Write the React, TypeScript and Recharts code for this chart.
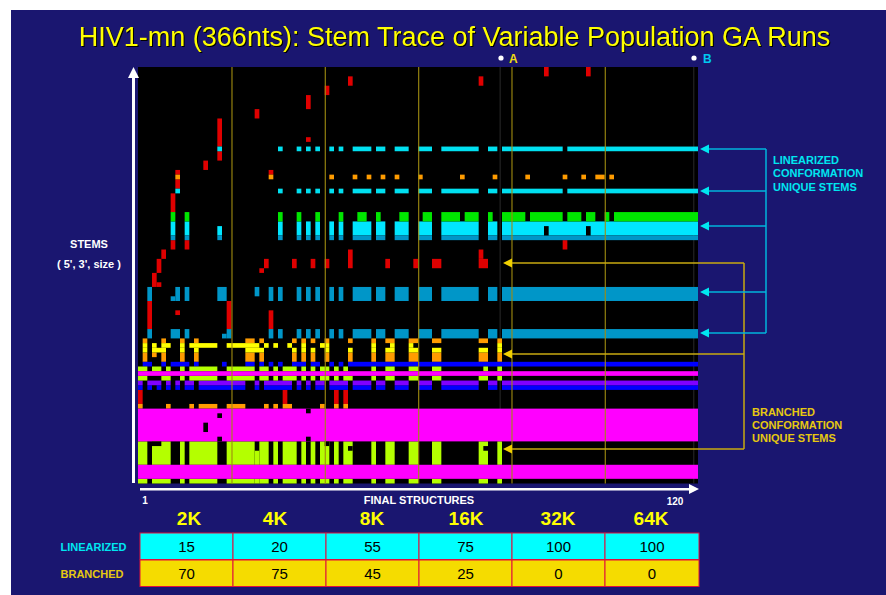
import React from "react";
import { ScatterChart, Scatter, XAxis, YAxis, ReferenceLine, ReferenceArea } from "recharts";

// a run is [rowFrom, rowTo, colFrom, colTo], rows count from the top of the plot
type Run = [number, number, number, number];
type Span = [number, number];

const COLS = 120;
const ROWS = 89;
const PLOT_W = 560;
const PLOT_H = 416.5;
const FONT = '"Liberation Sans", Arial, sans-serif';

const across = (rows: Span[], spans: Span[]): Run[] =>
  rows.flatMap(([r0, r1]) => spans.map(([c0, c1]): Run => [r0, r1, c0, c1]));

// columns of the linearized stems, from the 8K runs onward
const midSpans: Span[] = [[30, 30], [34, 34], [36, 36], [38, 38], [41, 41], [43, 43], [46, 49], [51, 52], [55, 57], [60, 62], [65, 72], [75, 76]];
const thinSpans: Span[] = [...midSpans, [78, 90], [92, 119]];
const wideSpans: Span[] = [...midSpans, [78, 119]];

const redRuns: Run[] = [
  [2, 3, 45, 45], [4, 5, 40, 40], [6, 8, 36, 36], [9, 10, 25, 25], [11, 16, 17, 17], [18, 19, 17, 17], [15, 15, 36, 36],
  [20, 21, 14, 14], [22, 22, 8, 8], [24, 25, 8, 8], [27, 30, 7, 7], [22, 22, 28, 28], [37, 38, 7, 7], [37, 38, 10, 10],
  [39, 40, 5, 5], [41, 43, 4, 4], [44, 46, 3, 3], [46, 46, 4, 4], [41, 42, 27, 27], [43, 43, 26, 26], [41, 42, 33, 33],
  [41, 42, 37, 37], [41, 42, 40, 40], [39, 42, 45, 45], [41, 42, 53, 53], [41, 42, 59, 59], [50, 55, 2, 2], [50, 55, 19, 19],
  [52, 52, 8, 8], [52, 55, 28, 28], [69, 71, 0, 0], [69, 71, 31, 31], [69, 71, 42, 42], [69, 71, 44, 44], [2, 3, 73, 73],
  [0, 1, 87, 87], [0, 1, 96, 96], [37, 38, 91, 91], [39, 40, 73, 73], [41, 42, 73, 74], [41, 42, 63, 64],
];

const cyanRuns: Run[] = [
  [17, 17, 17, 17], [26, 26, 8, 8],
  ...across([[17, 17], [26, 26]], thinSpans),
];

const brightRuns: Run[] = [
  [33, 35, 7, 7], [33, 35, 10, 10], [34, 35, 17, 17],
  ...across([[33, 35]], wideSpans),
];

const steelRuns: Run[] = [
  [36, 36, 7, 7], [36, 36, 10, 10], [36, 36, 17, 17],
  [47, 49, 2, 2], [47, 49, 8, 8], [49, 49, 7, 7], [47, 49, 10, 10], [47, 49, 17, 18], [47, 48, 25, 25], [47, 49, 28, 28],
  [56, 57, 2, 2], [56, 57, 7, 8], [56, 57, 10, 10], [56, 57, 19, 19], [57, 57, 18, 18], [56, 57, 28, 28],
  ...across([[36, 36], [47, 49], [56, 57]], wideSpans),
];

const greenRuns: Run[] = across([[31, 32]], [
  [7, 7], [10, 10], [30, 30], [34, 34], [38, 38], [43, 43], [47, 48], [51, 51], [56, 57], [61, 62], [65, 68], [70, 72],
  [75, 75], [78, 82], [84, 90], [92, 94], [96, 97], [100, 100], [102, 119],
]);

const orangeRuns: Run[] = [
  [23, 23, 8, 8], [23, 23, 28, 28], [23, 23, 41, 41], [23, 23, 46, 46], [23, 23, 49, 49], [23, 23, 52, 52], [23, 23, 55, 55],
  [23, 23, 60, 60], [23, 23, 69, 69], [23, 23, 76, 76], [23, 23, 83, 83], [23, 23, 91, 91], [23, 23, 95, 95], [23, 23, 98, 99], [23, 23, 101, 101],
  [61, 61, 3, 3],
  ...across([[58, 58], [61, 62]], [[1, 1], [5, 5], [9, 9], [12, 12], [23, 24], [26, 26], [33, 33], [35, 35], [37, 37], [40, 40], [45, 45], [50, 50], [53, 54], [58, 59], [63, 64], [73, 74], [77, 77]]),
  ...across([[72, 72]], [[0, 0], [6, 6], [11, 11], [13, 16], [19, 22], [27, 27], [29, 29], [31, 32], [39, 39], [42, 42], [44, 44]]),
];

const yellowRuns: Run[] = [
  ...across([[59, 59]], [[1, 1], [3, 3], [5, 6], [9, 9], [11, 16], [19, 25], [27, 27], [29, 29], [32, 32], [35, 35], [39, 40], [50, 50], [54, 54], [58, 58], [77, 77]]),
  ...across([[60, 60]], [[1, 1], [3, 5], [9, 9], [12, 12], [23, 26], [33, 33], [35, 35], [37, 37], [40, 40], [45, 45], [50, 50], [53, 54], [58, 59], [63, 64], [73, 74], [77, 77]]),
];

const blueRuns: Run[] = [
  ...across([[63, 63]], [[1, 2], [5, 5], [7, 10], [12, 12], [18, 18], [23, 24], [26, 26], [28, 28], [30, 30], [33, 35], [37, 38], [41, 41], [43, 43], [45, 119]]),
  ...across([[68, 68]], [[0, 0], [2, 2], [4, 4], [6, 6], [8, 8], [10, 11], [13, 22], [25, 25], [27, 32], [34, 34], [36, 36], [38, 39], [41, 44], [46, 49], [51, 52], [55, 57], [60, 62], [65, 72], [75, 76], [78, 119]]),
];

const purpleRuns: Run[] = across([[67, 67]], [
  [0, 0], [2, 4], [6, 6], [8, 8], [10, 11], [13, 22], [25, 25], [27, 32], [34, 34], [36, 36], [38, 39], [41, 44], [46, 49],
  [51, 52], [55, 57], [60, 62], [65, 72], [75, 76], [78, 119],
]);

const limeRuns: Run[] = [
  ...across([[64, 64]], [[0, 1], [3, 4], [6, 6], [9, 9], [11, 16], [19, 24], [26, 27], [29, 29], [31, 33], [35, 35], [37, 37], [39, 40], [42, 42], [44, 44], [50, 50], [53, 54], [58, 59], [63, 64], [74, 74], [77, 77]]),
  ...across([[66, 66]], [[0, 1], [5, 6], [9, 9], [11, 16], [19, 24], [26, 27], [29, 29], [31, 33], [35, 35], [37, 37], [39, 40], [42, 42], [44, 45], [50, 50], [53, 54], [58, 59], [63, 64], [73, 74], [77, 77]]),
  [82, 84, 25, 25], [88, 88, 25, 25],
  ...across([[80, 84], [88, 88]], [[0, 1], [3, 6], [9, 9], [11, 16], [19, 24], [26, 27], [29, 29], [31, 33], [35, 35], [37, 37], [39, 40], [42, 42], [44, 45], [50, 50], [53, 54], [58, 59], [63, 64], [73, 74], [77, 77]]),
];

const magentaRuns: Run[] = [[65, 65, 0, 119], [73, 79, 0, 119], [85, 87, 0, 119]];

// black notches cut out of the wider blocks
const holeRuns: Run[] = [
  [34, 35, 87, 87], [34, 35, 96, 96],
  [73, 73, 36, 36], [74, 74, 17, 17], [76, 77, 14, 14], [79, 79, 17, 17], [79, 79, 36, 36],
  [80, 80, 3, 4], [80, 80, 40, 40], [81, 81, 45, 45], [81, 81, 74, 74],
];

const series: { name: string; color: string; runs: Run[] }[] = [
  { name: "red", color: "#e00000", runs: redRuns },
  { name: "cyan", color: "#00e0f0", runs: cyanRuns },
  { name: "bright", color: "#00e6ff", runs: brightRuns },
  { name: "steel", color: "#0096c8", runs: steelRuns },
  { name: "green", color: "#00e600", runs: greenRuns },
  { name: "orange", color: "#ff9c00", runs: orangeRuns },
  { name: "yellow", color: "#ffff00", runs: yellowRuns },
  { name: "blue", color: "#0000ff", runs: blueRuns },
  { name: "purple", color: "#8000ff", runs: purpleRuns },
  { name: "lime", color: "#b4ff00", runs: limeRuns },
  { name: "magenta", color: "#ff00ff", runs: magentaRuns },
  { name: "hole", color: "#000000", runs: holeRuns },
];

const runSizeLines = [20, 40, 60, 80, 100];
const markerLines = [77.6, 119.1];

const runSizes = ["2K", "4K", "8K", "16K", "32K", "64K"];
const runSizeCenters = [189, 275, 372, 466, 558, 651];
const linearized = [15, 20, 55, 75, 100, 100];
const branched = [70, 75, 45, 25, 0, 0];
const tableEdges = [140, 233, 326, 419, 512, 605, 699];

const cyanArrowYs = [149, 191, 226, 292, 333];
const goldArrowYs = [263, 354, 449];

const toPoint = ([r0, r1, c0, c1]: Run) => ({
  x: (c0 + c1 + 1) / 2,
  y: (r0 + r1 + 1) / 2,
  w: c1 - c0 + 1,
  h: r1 - r0 + 1,
});

function Cell(props: any) {
  const { cx, cy, payload, fill } = props;
  const w = (payload.w * PLOT_W) / COLS;
  const h = (payload.h * PLOT_H) / ROWS;
  return <rect x={cx - w / 2} y={cy - h / 2} width={w} height={h} fill={fill} />;
}

// the 2K/4K/... dividers sit on top of the cells, a ReferenceLine ends up under them
function Divider(props: any) {
  const { cx, cy } = props;
  return <rect x={cx} y={cy - PLOT_H / 2} width={1.3} height={PLOT_H} fill="#a08c10" fillOpacity={0.85} />;
}

function Overlay() {
  const label = { fontFamily: FONT, fontWeight: 700 } as const;
  return (
    <svg width={886} height={595} style={{ position: "absolute", left: 0, top: 0 }}>
      <text x={454.5} y={46} textAnchor="middle" fontFamily={FONT} fontSize={27} fill="#ffff00" style={{ filter: "drop-shadow(1px 1px 0 #000)" }}>
        HIV1-mn (366nts): Stem Trace of Variable Population GA Runs
      </text>

      {/* axes */}
      <rect x={132} y={75} width={3} height={408} fill="#fff" />
      <polygon points="133.5,67 128,78 139,78" fill="#fff" />
      <rect x={140} y={488} width={552} height={2.5} fill="#fff" />
      <polygon points="699,489 689,484 689,494" fill="#fff" />

      <circle cx={501} cy={58} r={2.6} fill="#fff" />
      <text x={509} y={63} {...label} fontSize={12} fill="#f0dc10">A</text>
      <circle cx={694} cy={58} r={2.6} fill="#fff" />
      <text x={703} y={63} {...label} fontSize={12} fill="#00c8f0">B</text>

      <text x={89} y={248} {...label} fontSize={11} fill="#fff" textAnchor="middle">STEMS</text>
      <text x={89} y={268} {...label} fontSize={11} fill="#fff" textAnchor="middle">( 5', 3', size )</text>

      <text x={145} y={504} {...label} fontSize={10} fill="#fff" textAnchor="middle">1</text>
      <text x={419} y={504} {...label} fontSize={11} fill="#fff" textAnchor="middle">FINAL STRUCTURES</text>
      <text x={675} y={505} {...label} fontSize={10} fill="#fff" textAnchor="middle">120</text>

      {runSizes.map((s, i) => (
        <text key={s} x={runSizeCenters[i]} y={525} {...label} fontSize={19} fill="#ffff00" textAnchor="middle">{s}</text>
      ))}

      {/* gold callouts */}
      <g stroke="#c8aa10" strokeWidth={1.5} fill="none">
        <path d={`M744 ${goldArrowYs[0]}V${goldArrowYs[2]}`} />
        {goldArrowYs.map((y) => <path key={y} d={`M511 ${y}H744`} />)}
      </g>
      {goldArrowYs.map((y) => (
        <polygon key={y} points={`503,${y} 512,${y - 4.5} 512,${y + 4.5}`} fill="#f0d000" />
      ))}

      {/* cyan callouts */}
      <g stroke="#00b4dc" strokeWidth={1.5} fill="none">
        <path d={`M766 ${cyanArrowYs[0]}V${cyanArrowYs[4]}`} />
        {cyanArrowYs.map((y) => <path key={y} d={`M708 ${y}H766`} />)}
      </g>
      {cyanArrowYs.map((y) => (
        <polygon key={y} points={`700,${y} 709,${y - 4.5} 709,${y + 4.5}`} fill="#00e6f0" />
      ))}

      <g {...label} fontSize={11} fill="#00e6f0">
        <text x={773} y={164}>LINEARIZED</text>
        <text x={773} y={177}>CONFORMATION</text>
        <text x={773} y={191}>UNIQUE STEMS</text>
      </g>
      <g {...label} fontSize={11} fill="#e6c810">
        <text x={752} y={416}>BRANCHED</text>
        <text x={752} y={429}>CONFORMATION</text>
        <text x={752} y={442}>UNIQUE STEMS</text>
      </g>

      {/* table under the plot */}
      <text x={93.5} y={551} {...label} fontSize={11} fill="#00e6f0" textAnchor="middle">LINEARIZED</text>
      <text x={92} y={578} {...label} fontSize={11} fill="#e6c810" textAnchor="middle">BRANCHED</text>
      {linearized.map((v, i) => {
        const x0 = tableEdges[i];
        const w = tableEdges[i + 1] - x0;
        return (
          <g key={i}>
            <rect x={x0} y={533} width={w} height={26.5} fill="#00ffff" stroke="#e0103c" strokeWidth={1} />
            <rect x={x0} y={560} width={w} height={26.5} fill="#f5dc00" stroke="#e0103c" strokeWidth={1} />
            <text x={x0 + w / 2} y={552} fontFamily={FONT} fontSize={15} fill="#000" textAnchor="middle">{v}</text>
            <text x={x0 + w / 2} y={579} fontFamily={FONT} fontSize={15} fill="#000" textAnchor="middle">{branched[i]}</text>
          </g>
        );
      })}
    </svg>
  );
}

export default function App() {
  return (
    <div style={{ position: "absolute", left: 0, top: 0, width: 886, height: 595, background: "#fff", overflow: "hidden" }}>
      <div style={{ position: "absolute", left: 11, top: 10, width: 875, height: 585, background: "#1a1670" }} />
      <div style={{ position: "absolute", left: 0, top: 0 }}>
        <ScatterChart width={886} height={595} margin={{ left: 138, right: 188, top: 67, bottom: 111.5 }}>
          <XAxis type="number" dataKey="x" domain={[0, COLS]} hide />
          <YAxis type="number" dataKey="y" domain={[0, ROWS]} reversed hide />
          <ReferenceArea x1={0} x2={COLS} y1={0} y2={ROWS} fill="#000" fillOpacity={1} stroke="none" />
          {markerLines.map((x) => (
            <ReferenceLine key={x} x={x} stroke="#2a2a2a" strokeWidth={1} />
          ))}
          {series.map((s) => (
            <Scatter key={s.name} name={s.name} data={s.runs.map(toPoint)} fill={s.color} shape={Cell} isAnimationActive={false} />
          ))}
          <Scatter name="dividers" data={runSizeLines.map((x) => ({ x, y: ROWS / 2 }))} shape={Divider} isAnimationActive={false} />
        </ScatterChart>
      </div>
      <Overlay />
    </div>
  );
}
